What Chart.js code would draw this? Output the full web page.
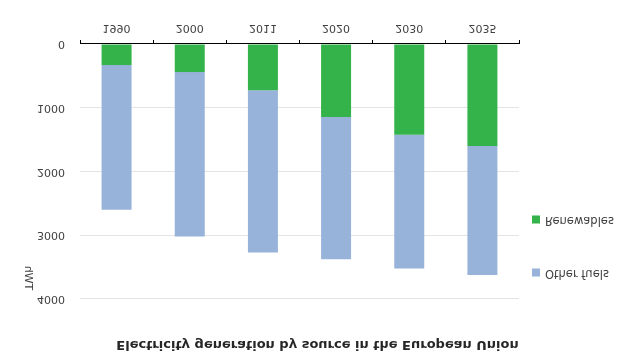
<!DOCTYPE html>
<html>
<head>
<meta charset="utf-8">
<script src="https://cdn.jsdelivr.net/npm/chart.js@4"></script>
<style>
  html, body { margin: 0; padding: 0; background: #ffffff; }
  #wrap { width: 635px; height: 359px; transform: scaleY(-1); transform-origin: 50% 50%; }
  canvas { display: block; }
</style>
</head>
<body>
<div id="wrap"><canvas id="c" width="635" height="359"></canvas></div>
<script>
const years = ['1990', '2000', '2011', '2020', '2030', '2035'];
const renewables = [330, 440, 725, 1145, 1425, 1600];
const otherFuels = [2270, 2580, 2545, 2230, 2095, 2025];
const yTicks = [0, 1000, 2000, 3000, 4000];
const chartTitle = 'Electricity generation by source in the European Union';
const yTitle = 'TWh';

const GREEN = '#34b34a';
const BLUE = '#98b3da';
const FONT = "'DejaVu Sans', Verdana, sans-serif";

const extras = {
  id: 'extras',
  afterDraw(chart) {
    const ctx = chart.ctx;
    // chart title
    ctx.save();
    ctx.fillStyle = '#262626';
    ctx.font = 'bold 13px ' + FONT;
    ctx.textAlign = 'center';
    ctx.textBaseline = 'middle';
    ctx.fillText(chartTitle, 317.5, 14.5);
    ctx.restore();

    // y-axis title
    ctx.save();
    ctx.fillStyle = '#404040';
    ctx.font = '11px ' + FONT;
    ctx.textAlign = 'center';
    ctx.textBaseline = 'middle';
    ctx.translate(28, 81);
    ctx.rotate(Math.PI / 2);
    ctx.fillText(yTitle, 0, 0);
    ctx.restore();

    // legend (reverse order: Other fuels on top)
    ctx.save();
    ctx.font = '11.5px ' + FONT;
    ctx.textAlign = 'left';
    ctx.textBaseline = 'middle';
    const items = [
      { ds: chart.data.datasets[1], y: 86.5 },
      { ds: chart.data.datasets[0], y: 139.5 }
    ];
    items.forEach(it => {
      ctx.fillStyle = it.ds.backgroundColor;
      ctx.fillRect(532, it.y - 4, 8, 8);
      ctx.fillStyle = '#404040';
      ctx.fillText(it.ds.label, 545, it.y);
    });
    ctx.restore();
  }
};

new Chart(document.getElementById('c'), {
  type: 'bar',
  data: {
    labels: years,
    datasets: [
      { label: 'Renewables', data: renewables, backgroundColor: GREEN },
      { label: 'Other fuels', data: otherFuels, backgroundColor: BLUE }
    ]
  },
  options: {
    responsive: false,
    animation: false,
    devicePixelRatio: 1,
    layout: { padding: { left: 0, right: 116, top: 60, bottom: 0 } },
    datasets: { bar: { categoryPercentage: 1, barPercentage: 0.41 } },
    plugins: {
      legend: { display: false },
      tooltip: { enabled: false },
      title: { display: false }
    },
    scales: {
      x: {
        stacked: true,
        afterFit(s) { s.height = 44; },
        border: { display: true, color: '#000000', width: 1 },
        grid: { display: true, drawOnChartArea: false, drawTicks: true, tickLength: 4, color: '#000000' },
        ticks: { color: '#404040', font: { family: FONT, size: 11 }, padding: 6 }
      },
      y: {
        stacked: true,
        min: 0,
        max: 4000,
        afterFit(s) { s.width = 80; },
        afterBuildTicks(s) { s.ticks = yTicks.map(v => ({ value: v })); },
        border: { display: false },
        grid: { color: '#e4e4e4', drawTicks: false, lineWidth: 1 },
        ticks: {
          color: '#404040',
          font: { family: FONT, size: 11 },
          padding: 15,
          callback: v => String(v)
        }
      }
    }
  },
  plugins: [extras]
});
</script>
</body>
</html>
